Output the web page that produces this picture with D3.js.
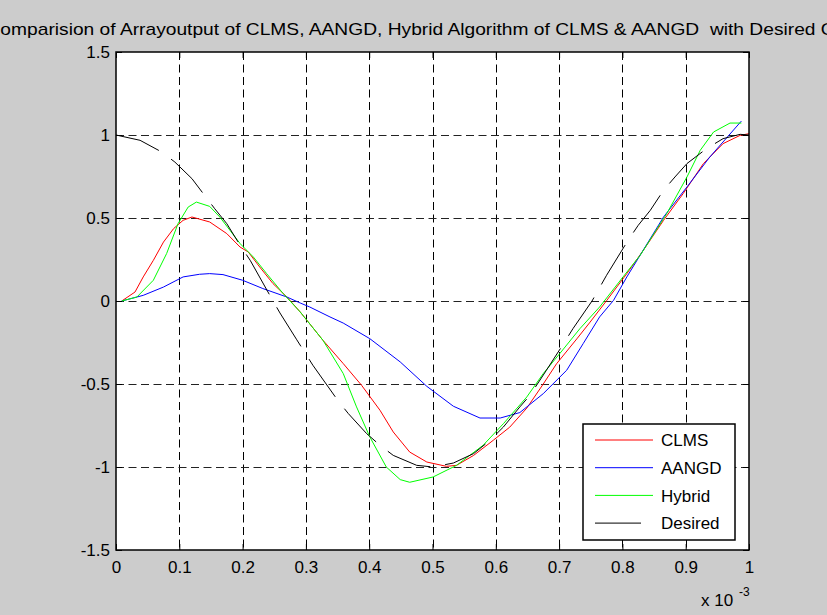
<!DOCTYPE html>
<html>
<head>
<meta charset="utf-8">
<script src="https://cdn.jsdelivr.net/npm/d3@7"></script>
<style>
  body { margin: 0; background: #cccccc; }
  svg { display: block; font-family: "Liberation Sans", Arial, sans-serif; }
</style>
</head>
<body>
<div id="chart"></div>
<script>
// values, time in units of 1e-3
var titleText = "Comparision of Arrayoutput of CLMS, AANGD, Hybrid Algorithm of CLMS & AANGD  with Desired Output";
var xTicks = [0, 0.1, 0.2, 0.3, 0.4, 0.5, 0.6, 0.7, 0.8, 0.9, 1];
var yTicks = [-1.5, -1, -0.5, 0, 0.5, 1, 1.5];
var seriesNames = ["CLMS", "AANGD", "Hybrid", "Desired"];
var seriesColors = ["#ff0000", "#0000ff", "#00ff00", "#000000"];

var clms = [
  [0.009, 0], [0.030, 0.054], [0.043, 0.145], [0.059, 0.245], [0.075, 0.355],
  [0.091, 0.436], [0.106, 0.486], [0.120, 0.506], [0.148, 0.476], [0.175, 0.406],
  [0.196, 0.325], [0.209, 0.295], [0.227, 0.205], [0.248, 0.105], [0.270, 0.024],
  [0.291, -0.066], [0.327, -0.237], [0.359, -0.377], [0.388, -0.508], [0.417, -0.658],
  [0.438, -0.789], [0.464, -0.910], [0.491, -0.970], [0.522, -0.996], [0.538, -0.990],
  [0.565, -0.930], [0.596, -0.839], [0.622, -0.760], [0.649, -0.645], [0.675, -0.500],
  [0.696, -0.378], [0.728, -0.228], [0.749, -0.127], [0.775, 0.002], [0.807, 0.165],
  [0.833, 0.305], [0.865, 0.486], [0.896, 0.647], [0.928, 0.828], [0.959, 0.948],
  [0.986, 0.998], [1.000, 1.008]
];

var aangd = [
  [0.009, 0], [0.043, 0.034], [0.075, 0.084], [0.106, 0.145], [0.132, 0.161],
  [0.148, 0.165], [0.169, 0.159], [0.200, 0.125], [0.232, 0.075], [0.270, 0.024],
  [0.291, -0.012], [0.306, -0.036], [0.338, -0.096], [0.359, -0.133], [0.401, -0.227],
  [0.449, -0.367], [0.491, -0.514], [0.533, -0.634], [0.575, -0.705], [0.607, -0.705],
  [0.638, -0.672], [0.675, -0.558], [0.712, -0.417], [0.738, -0.257], [0.764, -0.096],
  [0.786, 0.004], [0.807, 0.145], [0.865, 0.506], [0.902, 0.687], [0.938, 0.867],
  [0.988, 1.084]
];

var hybrid = [
  [0.009, 0], [0.033, 0.024], [0.059, 0.125], [0.080, 0.286], [0.098, 0.466],
  [0.114, 0.566], [0.127, 0.596], [0.148, 0.570], [0.164, 0.506], [0.180, 0.426],
  [0.196, 0.346], [0.217, 0.265], [0.238, 0.165], [0.264, 0.045], [0.291, -0.066],
  [0.327, -0.237], [0.359, -0.437], [0.380, -0.638], [0.401, -0.819], [0.427, -1.000],
  [0.449, -1.076], [0.464, -1.092], [0.501, -1.060], [0.538, -0.990], [0.580, -0.869],
  [0.612, -0.739], [0.649, -0.578], [0.675, -0.437], [0.701, -0.317], [0.733, -0.166],
  [0.764, -0.036], [0.801, 0.145], [0.828, 0.275], [0.870, 0.526], [0.902, 0.747],
  [0.923, 0.908], [0.944, 1.018], [0.970, 1.072], [0.988, 1.072]
];

var desired = [
  [0, 1], [0.038, 0.968], [0.072, 0.898], [0.093, 0.837], [0.120, 0.737],
  [0.141, 0.631], [0.156, 0.556], [0.175, 0.466], [0.196, 0.336], [0.212, 0.245],
  [0.246, 0.014], [0.259, -0.072], [0.285, -0.230], [0.311, -0.387], [0.351, -0.602],
  [0.367, -0.678], [0.396, -0.799], [0.417, -0.869], [0.438, -0.930], [0.475, -0.990],
  [0.501, -1.000], [0.533, -0.976], [0.565, -0.919], [0.591, -0.839], [0.612, -0.759],
  [0.638, -0.638], [0.654, -0.568], [0.680, -0.417], [0.707, -0.257], [0.722, -0.166],
  [0.752, 0.000], [0.775, 0.155], [0.809, 0.366], [0.825, 0.456], [0.844, 0.546],
  [0.865, 0.667], [0.883, 0.747], [0.902, 0.828], [0.933, 0.918], [0.959, 0.978],
  [0.986, 1.004], [1.000, 1.000]
];

var allSeries = [clms, aangd, hybrid, desired];

var width = 827, height = 615;
var margin = {left: 116, right: 78, top: 52, bottom: 65};
var plotW = width - margin.left - margin.right;
var plotH = height - margin.top - margin.bottom;

var svg = d3.select("#chart").append("svg")
  .attr("width", width)
  .attr("height", height);

svg.append("rect")
  .attr("width", width)
  .attr("height", height)
  .attr("fill", "#cccccc");

var g = svg.append("g")
  .attr("transform", "translate(" + margin.left + "," + margin.top + ")");

var x = d3.scaleLinear().domain([0, 1]).range([0, plotW]);
var y = d3.scaleLinear().domain([-1.5, 1.5]).range([plotH, 0]);

var fmt = function(d) { return String(+d.toFixed(1)); };

g.append("rect")
  .attr("width", plotW)
  .attr("height", plotH)
  .attr("fill", "#ffffff");

// grid
g.append("g").selectAll("line")
  .data(xTicks.slice(1, -1))
  .enter().append("line")
    .attr("x1", function(d) { return Math.round(x(d)) + 0.5; })
    .attr("x2", function(d) { return Math.round(x(d)) + 0.5; })
    .attr("y1", 0)
    .attr("y2", plotH)
    .attr("stroke", "#000")
    .attr("stroke-dasharray", "8,4.5");

g.append("g").selectAll("line")
  .data(yTicks.slice(1, -1))
  .enter().append("line")
    .attr("y1", function(d) { return Math.round(y(d)) + 0.5; })
    .attr("y2", function(d) { return Math.round(y(d)) + 0.5; })
    .attr("x1", 0)
    .attr("x2", plotW)
    .attr("stroke", "#222")
    .attr("stroke-dasharray", "8,4.5");

// lines
var line = d3.line()
  .x(function(d) { return x(d[0]); })
  .y(function(d) { return y(d[1]); });

allSeries.forEach(function(s, i) {
  g.append("path")
    .datum(s)
    .attr("d", line)
    .attr("fill", "none")
    .attr("stroke", seriesColors[i])
    .attr("stroke-width", 1)
    .attr("stroke-dasharray", i == 3 ? "46,15" : null);
});

// axes, ticks pointing inward on all four sides
var axes = [
  {axis: d3.axisBottom(x), t: "translate(0," + plotH + ")", labels: true, v: xTicks},
  {axis: d3.axisTop(x), t: "translate(0,0)", labels: false, v: xTicks},
  {axis: d3.axisLeft(y), t: "translate(0,0)", labels: true, v: yTicks},
  {axis: d3.axisRight(y), t: "translate(" + plotW + ",0)", labels: false, v: yTicks}
];

axes.forEach(function(a, i) {
  a.axis.tickValues(a.v)
    .tickSizeInner(-6)
    .tickSizeOuter(0)
    .tickPadding(i == 0 ? 11 : 6)
    .tickFormat(a.labels ? fmt : "");
  var ax = g.append("g")
    .attr("transform", a.t)
    .call(a.axis);
  ax.select(".domain").remove();
  ax.selectAll(".tick line").attr("stroke", "#000");
  ax.selectAll("text")
    .attr("fill", "#000")
    .style("font-size", "17px")
    .style("font-family", "'Liberation Sans', Arial, sans-serif");
});

g.append("rect")
  .attr("width", plotW)
  .attr("height", plotH)
  .attr("fill", "none")
  .attr("stroke", "#000")
  .attr("stroke-width", 1.5);

// exponent label
svg.append("text")
  .attr("x", 701)
  .attr("y", 606)
  .style("font-size", "17px")
  .text("x 10");
svg.append("text")
  .attr("x", 739)
  .attr("y", 596)
  .style("font-size", "12px")
  .text("-3");

// title (wider than the window, as in the original figure)
svg.append("text")
  .attr("x", margin.left + plotW / 2)
  .attr("y", 35)
  .attr("text-anchor", "middle")
  .attr("textLength", 892)
  .attr("lengthAdjust", "spacingAndGlyphs")
  .style("white-space", "pre")
  .style("font-size", "17px")
  .text(titleText);

// legend
var legend = svg.append("g").attr("transform", "translate(583,424)");
legend.append("rect")
  .attr("width", 152)
  .attr("height", 116)
  .attr("fill", "#fff")
  .attr("stroke", "#000")
  .attr("stroke-width", 1.5);

var items = legend.selectAll(".item")
  .data(seriesNames)
  .enter().append("g")
    .attr("class", "item")
    .attr("transform", function(d, i) { return "translate(0," + (16 + i * 27.7) + ")"; });

items.append("line")
  .attr("x1", 12)
  .attr("x2", function(d, i) { return i == 3 ? 58 : 70; })
  .attr("stroke", function(d, i) { return seriesColors[i]; })
  .attr("stroke-width", 1);

items.append("text")
  .attr("x", 78)
  .attr("dy", "0.36em")
  .style("font-size", "17px")
  .text(function(d) { return d; });
</script>
</body>
</html>
